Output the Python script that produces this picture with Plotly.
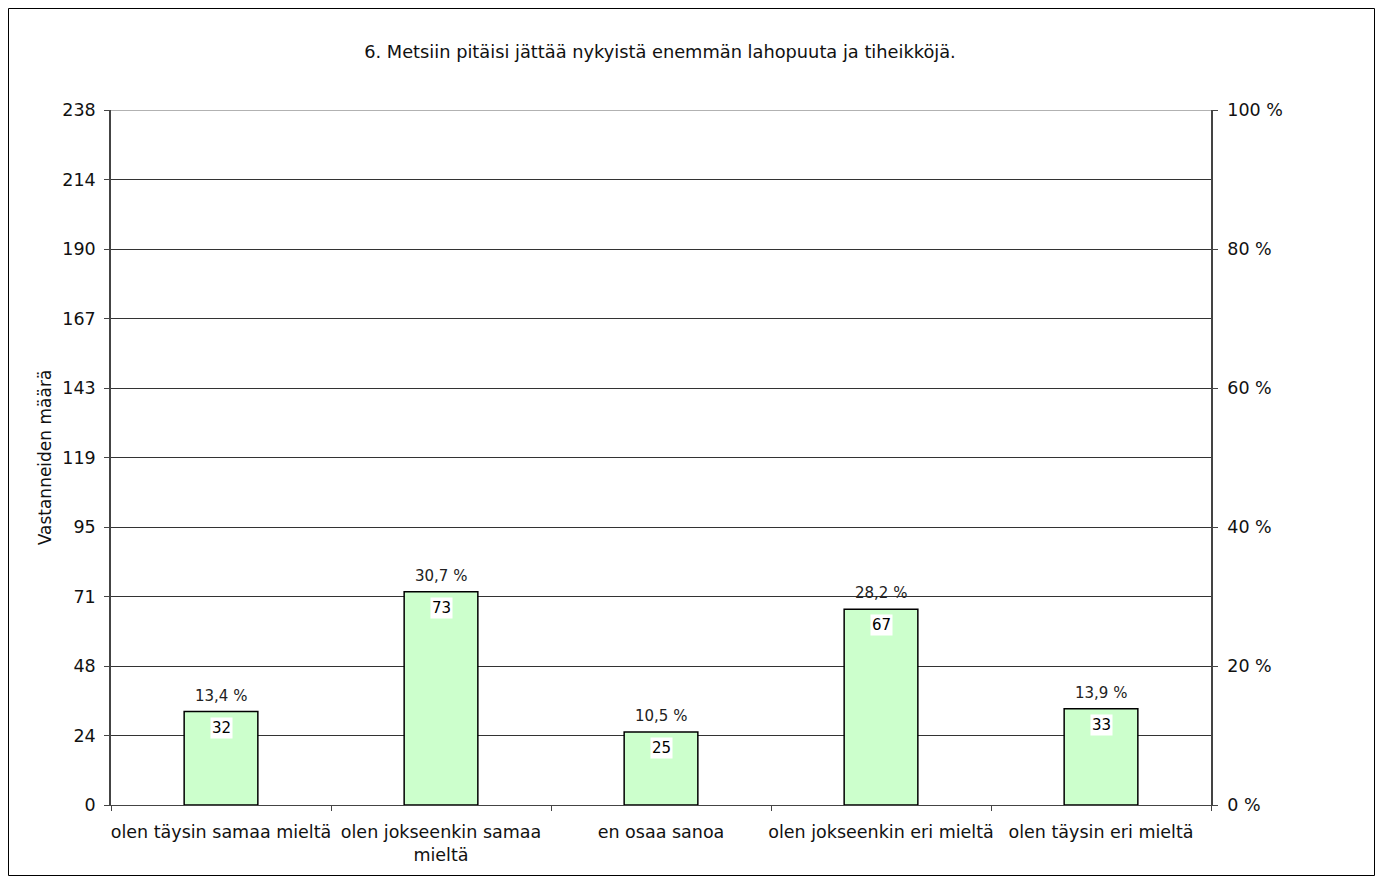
import plotly.graph_objects as go

categories = ["olen täysin samaa mieltä", "olen jokseenkin samaa<br>mieltä", "en osaa sanoa",
              "olen jokseenkin eri mieltä", "olen täysin eri mieltä"]
counts = [32, 73, 25, 67, 33]
percents = [13.4, 30.7, 10.5, 28.2, 13.9]
y_max = 238
left_tick_vals = [0, 23.8, 47.6, 71.4, 95.2, 119, 142.8, 166.6, 190.4, 214.2, 238]
left_tick_text = ["0", "24", "48", "71", "95", "119", "143", "167", "190", "214", "238"]
right_tick_vals = [0, 20, 40, 60, 80, 100]
right_tick_text = ["0 %", "20 %", "40 %", "60 %", "80 %", "100 %"]

FONT = "DejaVu Sans"
W, H = 1368, 869
L, T = 103, 102
PW, PH = 1100, 695
fig = go.Figure()
fig.add_trace(go.Bar(
    x=categories, y=counts, width=0.335,
    marker=dict(color="#CCFFCC", line=dict(color="black", width=1.5)),
    hoverinfo="skip",
))
fig.add_trace(go.Scatter(x=categories, y=[None]*len(categories), yaxis="y2",
                         showlegend=False, hoverinfo="skip"))

for c, v, p in zip(categories, counts, percents):
    fig.add_annotation(x=c, y=v, text=f"{p:.1f} %".replace(".", ","), showarrow=False,
                       yanchor="middle", yshift=16,
                       font=dict(family=FONT, size=15, color="#222"))
    fig.add_annotation(x=c, y=v, text=str(v), showarrow=False, yanchor="top", yshift=-5,
                       bgcolor="white", borderpad=1,
                       font=dict(family=FONT, size=15, color="black"))

# top gridline at axis maximum (lighter, as in the original)
fig.add_shape(type="line", xref="paper", yref="y", x0=0, x1=1, y0=y_max, y1=y_max,
              line=dict(color="#999", width=1.5))

fig.add_shape(type="rect", xref="paper", yref="paper",
              x0=(0.5-L)/PW, x1=(W-1.5-L)/PW, y0=-(H-1.5-T-PH)/PH, y1=(T+PH-0.5)/PH,
              line=dict(color="black", width=1), fillcolor="rgba(0,0,0,0)", layer="below")

fig.update_layout(
    width=W, height=H,
    margin=dict(l=L, r=W-L-PW, t=T, b=H-T-PH),
    paper_bgcolor="white", plot_bgcolor="white",
    showlegend=False,
    font=dict(family=FONT, size=17, color="black"),
    title=dict(text="6. Metsiin pitäisi jättää nykyistä enemmän lahopuuta ja tiheikköjä.",
               x=(L + PW/2 - 1)/W, xanchor="center", y=1-44/H, yanchor="middle",
               font=dict(family=FONT, size=17.8, color="#111")),
    xaxis=dict(type="category", tickson="boundaries", ticks="outside", ticklen=5,
               tickcolor="#444", showline=True, linecolor="#444", linewidth=1,
               showgrid=False, tickangle=0, automargin=False, ticklabelstandoff=11,
               tickfont=dict(family=FONT, size=17.5, color="#111")),
    yaxis=dict(range=[0, y_max], tickvals=left_tick_vals, ticktext=left_tick_text,
               ticks="outside", ticklen=5, tickcolor="#444", showline=True, automargin=False,
               linecolor="#444", linewidth=1.5, showgrid=True, gridcolor="#333", gridwidth=1,
               zeroline=False, ticklabelstandoff=5,
               title=dict(text="Vastanneiden määrä", standoff=6,
                          font=dict(family=FONT, size=17, color="#111")),
               tickfont=dict(family=FONT, size=17.5, color="#111")),
    yaxis2=dict(range=[0, 100], overlaying="y", side="right", tickvals=right_tick_vals,
                ticktext=right_tick_text, ticks="outside", ticklen=5, tickcolor="#444",
                showline=True, linecolor="#444", linewidth=1.5, showgrid=False, automargin=False,
                zeroline=False, ticklabelstandoff=6,
                tickfont=dict(family=FONT, size=17.5, color="#111")),
    bargap=0.665,
)
fig.write_html("out.html")
